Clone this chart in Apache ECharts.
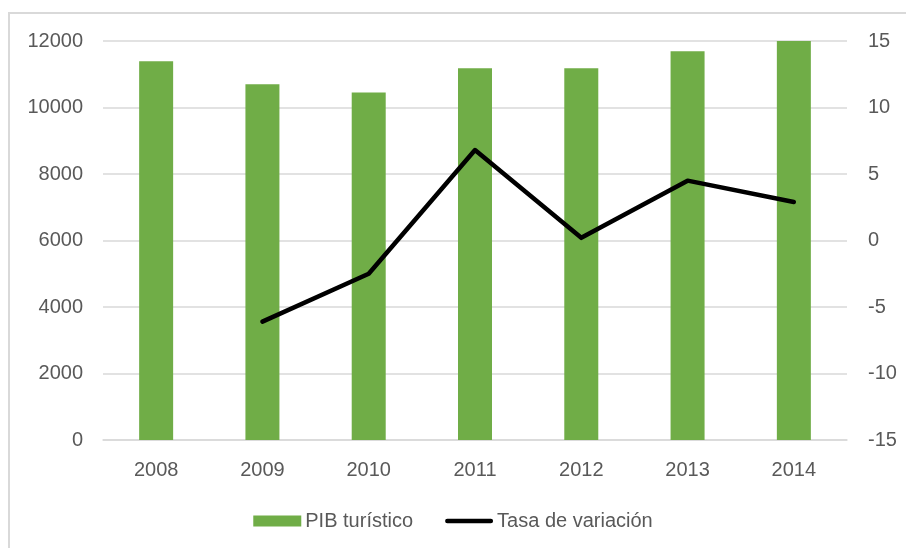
<!DOCTYPE html>
<html>
<head>
<meta charset="utf-8">
<script src="https://cdn.jsdelivr.net/npm/echarts@6/dist/echarts.min.js"></script>
<style>
  html, body { margin: 0; padding: 0; background: #fff; overflow: hidden; }
  #frame { position: absolute; left: 8px; top: 12px; width: 1000px; height: 1000px; border: 2px solid #d9d9d9; box-sizing: border-box; }
  #chart { position: absolute; left: 0; top: 0; width: 906px; height: 548px; }
</style>
</head>
<body>
<div id="frame"></div>
<div id="chart"></div>
<script>
// datos
const years = ['2008', '2009', '2010', '2011', '2012', '2013', '2014'];
const pibTuristico = [11390, 10700, 10450, 11180, 11180, 11690, 12000];
const tasaVariacion = [null, -6.1, -2.5, 6.8, 0.2, 4.5, 2.9];
const leftTicks = [0, 12000, 2000];
const rightTicks = [-15, 15, 5];

const textColor = '#595959';
const font = 'Liberation Sans';
const gridColor = '#d9d9d9';
const fontSize = 20;

const myChart = echarts.init(document.getElementById('chart'));

const option = {
  animation: false,
  textStyle: { fontFamily: font },
  grid: { left: 103, right: 59, top: 41, bottom: 108, containLabel: false },
  legend: {
    bottom: 12,
    left: 'center',
    itemGap: 32,
    itemWidth: 48,
    itemHeight: 11,
    textStyle: { color: textColor, fontSize: fontSize, fontFamily: font, padding: [0, 0, 0, -1] },
    data: [
      { name: 'PIB turístico', icon: 'rect' },
      { name: 'Tasa de variación', icon: 'path://M2,0 H50 A2.5,2.5 0 0 1 50,5 H2 A2.5,2.5 0 0 1 2,0 Z' },
    ],
  },
  xAxis: {
    type: 'category',
    data: years,
    axisTick: { show: false },
    axisLine: { show: true, lineStyle: { color: gridColor, width: 1.5 } },
    axisLabel: { color: textColor, fontSize: fontSize, margin: 20 },
  },
  yAxis: [
    {
      type: 'value',
      min: leftTicks[0],
      max: leftTicks[1],
      interval: leftTicks[2],
      axisLine: { show: false },
      axisTick: { show: false },
      axisLabel: { color: textColor, fontSize: fontSize, margin: 20, formatter: (v) => String(v) },
      splitLine: { lineStyle: { color: gridColor, width: 1.5 } },
    },
    {
      type: 'value',
      position: 'right',
      min: rightTicks[0],
      max: rightTicks[1],
      interval: rightTicks[2],
      axisLine: { show: false },
      axisTick: { show: false },
      axisLabel: { color: textColor, fontSize: fontSize, margin: 21, formatter: (v) => String(v) },
      splitLine: { show: false },
    },
  ],
  series: [
    {
      name: 'PIB turístico',
      type: 'bar',
      data: pibTuristico,
      barWidth: 34,
      itemStyle: { color: '#70ad47' },
    },
    {
      name: 'Tasa de variación',
      type: 'line',
      yAxisIndex: 1,
      data: tasaVariacion,
      showSymbol: false,
      symbol: 'none',
      lineStyle: { color: '#000', width: 4.5, cap: 'round', join: 'round' },
      itemStyle: { color: '#000' },
    },
  ],
};

myChart.setOption(option);
</script>
</body>
</html>
